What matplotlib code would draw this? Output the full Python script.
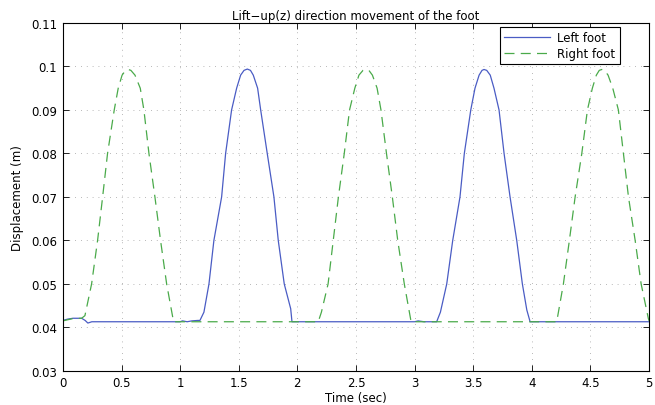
import matplotlib
matplotlib.use("Agg")
import matplotlib.pyplot as plt

plt.rcParams['font.family'] = ['DejaVu Sans']

# left foot (solid blue)
left_t = [0, 0.04, 0.085, 0.16, 0.19, 0.213, 0.247, 1.0, 1.02, 1.06, 1.1, 1.15, 1.169,
          1.203, 1.246, 1.288, 1.354, 1.388, 1.439, 1.482, 1.516, 1.545, 1.573, 1.60,
          1.624, 1.661, 1.687, 1.743, 1.80, 1.837, 1.888, 1.943, 1.954, 3.0, 3.03, 3.08,
          3.188, 3.22, 3.274, 3.325, 3.387, 3.424, 3.479, 3.515, 3.55, 3.575, 3.592, 3.615,
          3.645, 3.677, 3.72, 3.763, 3.814, 3.871, 3.919, 3.957, 3.985, 5.0]
left_z = [0.0416, 0.0419, 0.0421, 0.0421, 0.0416, 0.0410, 0.0413, 0.0413, 0.0415, 0.0413,
          0.0415, 0.0416, 0.0416, 0.0435, 0.050, 0.060, 0.070, 0.080, 0.090, 0.095, 0.098,
          0.0991, 0.0994, 0.0991, 0.098, 0.095, 0.090, 0.080, 0.070, 0.060, 0.050, 0.0443,
          0.0413, 0.0413, 0.0415, 0.0413, 0.0413, 0.0435, 0.050, 0.060, 0.070, 0.080, 0.090,
          0.095, 0.098, 0.0991, 0.0993, 0.0991, 0.098, 0.095, 0.090, 0.080, 0.070, 0.060,
          0.050, 0.044, 0.0413, 0.0413]

# right foot (dashed green)
right_t = [0, 0.08, 0.16, 0.188, 0.245, 0.296, 0.339, 0.381, 0.438, 0.472, 0.505, 0.535,
           0.557, 0.58, 0.615, 0.66, 0.691, 0.734, 0.785, 0.833, 0.885, 0.944, 2.178,
           2.205, 2.262, 2.306, 2.35, 2.40, 2.445, 2.49, 2.525, 2.56, 2.585, 2.61, 2.64,
           2.68, 2.713, 2.76, 2.81, 2.856, 2.912, 2.97, 4.212, 4.269, 4.32, 4.369, 4.426,
           4.474, 4.516, 4.55, 4.575, 4.596, 4.62, 4.65, 4.69, 4.738, 4.781, 4.824, 4.881,
           4.932, 4.994, 5.0]
right_z = [0.0415, 0.042, 0.0421, 0.0427, 0.050, 0.060, 0.070, 0.080, 0.090, 0.095, 0.098,
           0.0991, 0.0993, 0.0991, 0.098, 0.095, 0.090, 0.080, 0.070, 0.060, 0.050, 0.0413,
           0.0413, 0.0435, 0.050, 0.060, 0.070, 0.080, 0.090, 0.095, 0.098, 0.0991, 0.0993,
           0.0991, 0.098, 0.095, 0.090, 0.080, 0.070, 0.060, 0.050, 0.0413, 0.0413, 0.050,
           0.060, 0.070, 0.080, 0.090, 0.095, 0.098, 0.0991, 0.0993, 0.0991, 0.098, 0.095,
           0.090, 0.080, 0.070, 0.060, 0.050, 0.042, 0.0415]

x_ticks = [0, 0.5, 1, 1.5, 2, 2.5, 3, 3.5, 4, 4.5, 5]
x_labels = ['0', '0.5', '1', '1.5', '2', '2.5', '3', '3.5', '4', '4.5', '5']
y_ticks = [0.03, 0.04, 0.05, 0.06, 0.07, 0.08, 0.09, 0.1, 0.11]
y_labels = ['0.03', '0.04', '0.05', '0.06', '0.07', '0.08', '0.09', '0.1', '0.11']

fs = 8.5

fig = plt.figure(figsize=(6.55, 4.06), dpi=100)
ax = fig.add_axes([0.096, 0.084, 0.895, 0.857])

ax.plot(left_t, left_z, color='#4a5cc4', lw=0.9, label='Left foot')
ax.plot(right_t, right_z, color='#4aaa4a', lw=0.9, ls=(0, (8, 5)), label='Right foot')

ax.set_xlim(0, 5)
ax.set_ylim(0.03, 0.11)
ax.set_xticks(x_ticks)
ax.set_xticklabels(x_labels)
ax.set_yticks(y_ticks)
ax.set_yticklabels(y_labels)
ax.tick_params(direction='in', top=True, right=True, length=4.5, width=0.6,
               labelsize=fs, pad=4)
ax.grid(True, ls=(0, (1, 6)), color='#a0a0a0', lw=0.6)
for s in ax.spines.values():
    s.set_linewidth(0.8)

ax.set_title('Lift\u2212up(z) direction movement of the foot', fontsize=fs, pad=3)
ax.set_xlabel('Time (sec)', fontsize=fs, labelpad=1)
ax.set_ylabel('Displacement (m)', fontsize=fs, labelpad=5)

leg = ax.legend(loc='upper right', bbox_to_anchor=(0.9505, 0.9885), borderaxespad=0,
                fontsize=fs, fancybox=False, framealpha=1, edgecolor='black',
                handlelength=3.9, handletextpad=0.6, borderpad=0.38, labelspacing=0.2)
leg.get_frame().set_linewidth(0.8)

fig.savefig('out.png', dpi=100)
